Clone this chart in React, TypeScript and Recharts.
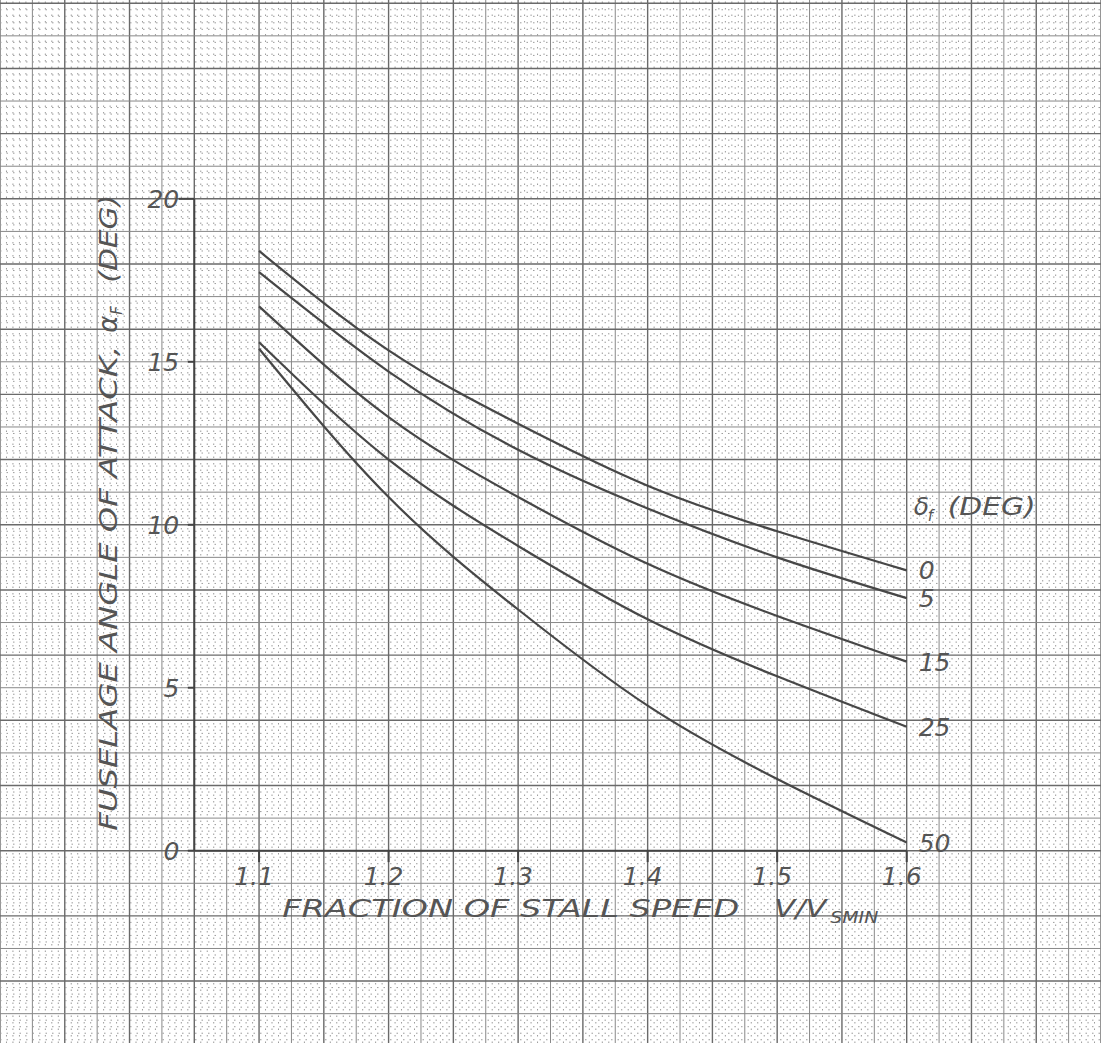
import React from 'react';
import { LineChart, Line, XAxis, YAxis, ReferenceLine, ReferenceDot } from 'recharts';

// fraction of stall speed V / Vs min
const speedRatio = [1.1, 1.2, 1.3, 1.4, 1.5, 1.6];
// fuselage angle of attack (deg) for each flap deflection
const flap0 = [18.4, 15.35, 13.1, 11.2, 9.8, 8.6];
const flap5 = [17.75, 14.7, 12.3, 10.5, 9.0, 7.75];
const flap15 = [16.7, 13.3, 10.85, 8.8, 7.2, 5.8];
const flap25 = [15.6, 12.0, 9.35, 7.1, 5.35, 3.8];
const flap50 = [15.4, 10.85, 7.4, 4.45, 2.2, 0.25];

const flapLabels = ['0', '5', '15', '25', '50'];
const xTicks = [1.1, 1.2, 1.3, 1.4, 1.5, 1.6];
const yTicks = [0, 5, 10, 15, 20];

const series = [flap0, flap5, flap15, flap25, flap50];
const data = speedRatio.map((v, i) => {
  const row: Record<string, number> = { v };
  series.forEach((s, k) => (row['f' + k] = s[i]));
  return row;
});
const last = speedRatio.length - 1;

// graph paper: heavy every 0.05 / 2 deg, medium every half, fine every tenth
const paperX = Array.from({ length: 171 }, (_, i) => ({ v: Math.round((0.9 + i * 0.005) * 1000) / 1000, w: i % 10 === 0 ? 2 : i % 5 === 0 ? 1 : 0 }));
const paperY = Array.from({ length: 160 }, (_, n) => {
  const j = n - 29;
  return { v: Math.round(j * 20) / 100, w: j % 10 === 0 ? 2 : j % 5 === 0 ? 1 : 0 };
});

const INK = '#555';
const FONT = '"DejaVu Sans", sans-serif';
const hand = { fill: INK, fontFamily: FONT, fontStyle: 'italic' as const };

const paperStyle = (w: number) =>
  w === 2
    ? { stroke: '#6a6a6a', strokeWidth: 1.4 }
    : w === 1
    ? { stroke: '#888', strokeWidth: 1 }
    : { stroke: '#9c9c9c', strokeWidth: 1, strokeDasharray: '1.5 5' };

const at = (render: (x: number, y: number) => React.ReactNode) => (p: any) => {
  const vb = p.viewBox || {};
  return render(vb.x ?? p.x, vb.y ?? p.y);
};

export default function App() {
  return (
    <div style={{ position: 'absolute', left: 0, top: 0, background: '#fff' }}>
      <LineChart width={1101} height={1043} data={data} margin={{ top: 0, right: 0, bottom: 0, left: 0 }}>
        <XAxis type="number" dataKey="v" domain={[0.9, 1.75]} hide allowDataOverflow />
        <YAxis type="number" domain={[-5.9, 26.1]} hide allowDataOverflow />

        {paperX.map((g) => (
          <ReferenceLine key={'px' + g.v} x={g.v} {...paperStyle(g.w)} />
        ))}
        {paperY.map((g) => (
          <ReferenceLine key={'py' + g.v} y={g.v} {...paperStyle(g.w)} />
        ))}

        {/* axes */}
        <ReferenceLine segment={[{ x: 1.05, y: 0 }, { x: 1.05, y: 20 }]} stroke="#444" strokeWidth={2} />
        <ReferenceLine segment={[{ x: 1.05, y: 0 }, { x: 1.6, y: 0 }]} stroke="#444" strokeWidth={2} />
        {yTicks.map((t) => (
          <ReferenceLine
            key={'yt' + t}
            segment={[{ x: t === 20 ? 1.038 : 1.045, y: t }, { x: 1.05, y: t }]}
            stroke="#444"
            strokeWidth={2}
          />
        ))}
        {yTicks.map((t) => (
          <ReferenceDot
            key={'yl' + t}
            x={1.05}
            y={t}
            r={0}
            label={at((x, y) => (
              <text x={x - 15} y={y + 9} textAnchor="end" fontSize={25} {...hand}>
                {t}
              </text>
            ))}
          />
        ))}
        {xTicks.map((t) => (
          <ReferenceLine key={'xt' + t} segment={[{ x: t, y: 0 }, { x: t, y: -0.35 }]} stroke="#444" strokeWidth={2} />
        ))}
        {xTicks.map((t) => (
          <ReferenceDot
            key={'xl' + t}
            x={t}
            y={0}
            r={0}
            label={at((x, y) => (
              <text x={x - 5} y={y + 34} textAnchor="middle" fontSize={25} {...hand}>
                {t.toFixed(1)}
              </text>
            ))}
          />
        ))}

        {/* axis titles */}
        <ReferenceDot
          x={1.05}
          y={0}
          r={0}
          label={at((x, y) => (
            <g>
              <text x={x + 88} y={y + 66} fontSize={24} textLength={457} lengthAdjust="spacingAndGlyphs" {...hand}>
                FRACTION OF STALL SPEED
              </text>
              <text x={x + 580} y={y + 66} fontSize={24} textLength={52} lengthAdjust="spacingAndGlyphs" {...hand}>
                V/V
              </text>
              <text x={x + 636} y={y + 72} fontSize={15} textLength={48} lengthAdjust="spacingAndGlyphs" {...hand}>
                SMIN
              </text>
            </g>
          ))}
        />
        <ReferenceDot
          x={1.05}
          y={0}
          r={0}
          label={at((x, y) => (
            <g>
              <text
                x={x - 77}
                y={y - 20}
                transform={`rotate(-90 ${x - 77} ${y - 20})`}
                fontSize={24}
                textLength={485}
                lengthAdjust="spacingAndGlyphs"
                {...hand}
              >
                FUSELAGE ANGLE OF ATTACK,
              </text>
              <text x={x - 77} y={y - 518} transform={`rotate(-90 ${x - 77} ${y - 518})`} fontSize={26} {...hand}>
                α
              </text>
              <text x={x - 72} y={y - 536} transform={`rotate(-90 ${x - 72} ${y - 536})`} fontSize={15} {...hand}>
                F
              </text>
              <text
                x={x - 77}
                y={y - 568}
                transform={`rotate(-90 ${x - 77} ${y - 568})`}
                fontSize={24}
                textLength={88}
                lengthAdjust="spacingAndGlyphs"
                {...hand}
              >
                (DEG)
              </text>
            </g>
          ))}
        />
        <ReferenceDot
          x={1.6}
          y={10.6}
          r={0}
          label={at((x, y) => (
            <g>
              <text x={x + 7} y={y + 10} fontSize={25} {...hand}>
                δ
              </text>
              <text x={x + 21} y={y + 16} fontSize={15} {...hand}>
                f
              </text>
              <text x={x + 41} y={y + 10} fontSize={24} textLength={88} lengthAdjust="spacingAndGlyphs" {...hand}>
                (DEG)
              </text>
            </g>
          ))}
        />

        {series.map((_, k) => (
          <Line
            key={'f' + k}
            dataKey={'f' + k}
            type="natural"
            stroke="#474747"
            strokeWidth={2.2}
            dot={false}
            activeDot={false}
            isAnimationActive={false}
          />
        ))}
        {series.map((s, k) => (
          <ReferenceDot
            key={'fl' + k}
            x={speedRatio[last]}
            y={s[last]}
            r={0}
            label={at((x, y) => (
              <text x={x + 12} y={y + 9} fontSize={25} {...hand}>
                {flapLabels[k]}
              </text>
            ))}
          />
        ))}
      </LineChart>
    </div>
  );
}
